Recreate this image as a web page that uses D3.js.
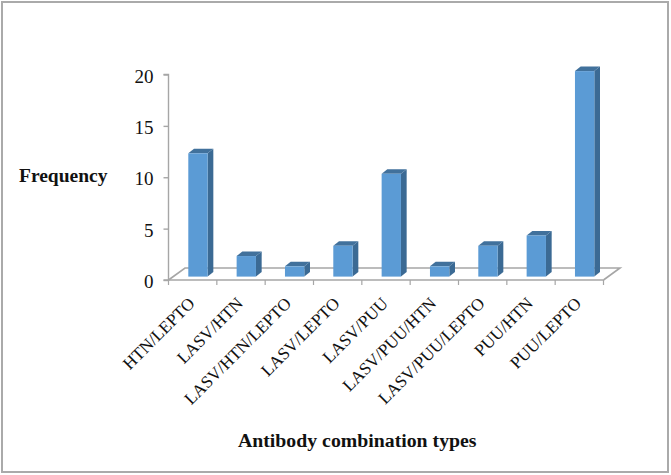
<!DOCTYPE html>
<html>
<head>
<meta charset="utf-8">
<script src="https://cdn.jsdelivr.net/npm/d3@7/dist/d3.min.js"></script>
<style>
html,body{margin:0;padding:0;background:#fff;}
svg{display:block;}
text{font-family:"Liberation Serif","Times New Roman",serif;fill:#111;}
</style>
</head>
<body>
<svg id="chart" width="671" height="475"></svg>
<script>
const categories = ["HTN/LEPTO","LASV/HTN","LASV/HTN/LEPTO","LASV/LEPTO","LASV/PUU","LASV/PUU/HTN","LASV/PUU/LEPTO","PUU/HTN","PUU/LEPTO"];
const frequency = [12,2,1,3,10,1,3,4,20];
const yTickValues = [0,5,10,15,20];
const yAxisTitle = "Frequency";
const xAxisTitle = "Antibody combination types";

const W = 671, H = 475;
const plot = {left:168.5, right:603.5, top:74.5, bottom:280};
const depth = {dx:16.5, dy:12};          // floor depth
const barDepth = {dx:5.7, dy:4.6};       // bar depth
const barOffset = {dx:5.3, dy:3.4};      // bars sit on the floor, inset from the front edge

const svg = d3.select("#chart");
svg.append("rect").attr("x",2).attr("y",2).attr("width",W-5).attr("height",H-5)
  .attr("fill","#fff").attr("stroke","#aaaaaa").attr("stroke-width",2);

const x = d3.scaleBand().domain(categories).range([plot.left,plot.right]).paddingInner(0).paddingOuter(0);
const y = d3.scaleLinear().domain([0,20]).range([plot.bottom,plot.top]);
const barW = x.bandwidth()*0.40;

// floor
const axisCol = "#a6a6a6";
svg.append("path")
  .attr("d",d3.line()([[plot.left,plot.bottom],[plot.left+depth.dx,plot.bottom-depth.dy],[plot.right+depth.dx,plot.bottom-depth.dy],[plot.right,plot.bottom]]))
  .attr("fill","none").attr("stroke",axisCol).attr("stroke-width",1.6);

// axes
const yAxis = d3.axisLeft(y).tickValues(yTickValues).tickSize(5).tickPadding(10).tickFormat(d3.format("d"));
const gy = svg.append("g").attr("transform",`translate(${plot.left},0)`).call(yAxis);
gy.selectAll("path,line").attr("stroke",axisCol).attr("stroke-width",1.4);
gy.select("path").attr("d",`M-5,${plot.top}H0V${plot.bottom}H-5`);
gy.selectAll("text").attr("font-size",19).attr("y",1.5).style("fill","#111");

const xAxis = d3.axisBottom(x).tickSize(0).tickFormat("");
const gx = svg.append("g").attr("transform",`translate(0,${plot.bottom})`).call(xAxis);
gx.select("path").attr("d",`M${plot.left},0H${plot.right}`).attr("stroke",axisCol).attr("stroke-width",1.6);
gx.selectAll(".tick").remove();
gx.selectAll("line.sep").data(x.domain().map(d=>x(d)).concat([plot.right])).enter().append("line")
  .attr("x1",d=>d).attr("x2",d=>d).attr("y1",0).attr("y2",5).attr("stroke",axisCol).attr("stroke-width",1.2);

// bars
const bars = svg.append("g").selectAll("g").data(categories.map((c,i)=>({c,v:frequency[i]}))).enter().append("g");
const barX = d => x(d.c)+x.bandwidth()/2-barW/2+barOffset.dx;
const barTop = d => y(d.v)-barOffset.dy;
const barBase = () => y(0)-barOffset.dy;
bars.append("path").attr("fill","#3b6a94")
  .attr("d",d=>{const l=barX(d)+barW;return `M${l},${barTop(d)}L${l+barDepth.dx},${barTop(d)-barDepth.dy}V${barBase()-barDepth.dy}L${l},${barBase()}Z`;});
bars.append("path").attr("fill","#41719c")
  .attr("d",d=>{const l=barX(d),t=barTop(d);return `M${l},${t}L${l+barDepth.dx},${t-barDepth.dy}H${l+barW+barDepth.dx}L${l+barW},${t}Z`;});
bars.append("rect").attr("fill","#5b9bd5")
  .attr("x",barX).attr("y",barTop).attr("width",barW).attr("height",d=>barBase()-barTop(d));

// rotated category labels
svg.append("g").selectAll("text").data(categories).enter().append("text")
  .attr("transform",d=>`translate(${x(d)+x.bandwidth()/2+3},${plot.bottom+24.5}) rotate(-45)`)
  .attr("text-anchor","end").attr("font-size",17.2).text(d=>d);

svg.append("text").attr("x",19).attr("y",181.5).attr("font-size",19.5).attr("font-weight","bold").text(yAxisTitle);
svg.append("text").attr("x",238).attr("y",447).attr("font-size",19.8).attr("font-weight","bold").text(xAxisTitle);
</script>
</body>
</html>
